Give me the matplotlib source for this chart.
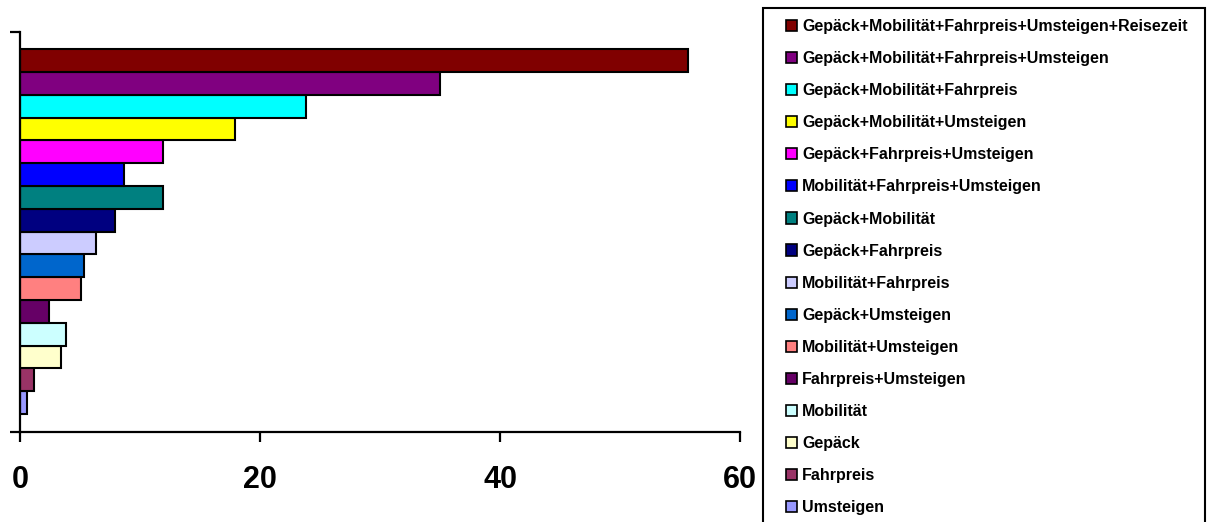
import matplotlib.pyplot as plt
from matplotlib.patches import Patch, Rectangle

# categories from bottom to top of the chart
categories = [
    'Umsteigen',
    'Fahrpreis',
    'Gepäck',
    'Mobilität',
    'Fahrpreis+Umsteigen',
    'Mobilität+Umsteigen',
    'Gepäck+Umsteigen',
    'Mobilität+Fahrpreis',
    'Gepäck+Fahrpreis',
    'Gepäck+Mobilität',
    'Mobilität+Fahrpreis+Umsteigen',
    'Gepäck+Fahrpreis+Umsteigen',
    'Gepäck+Mobilität+Umsteigen',
    'Gepäck+Mobilität+Fahrpreis',
    'Gepäck+Mobilität+Fahrpreis+Umsteigen',
    'Gepäck+Mobilität+Fahrpreis+Umsteigen+Reisezeit',
]
values = [0.6, 1.2, 3.4, 3.8, 2.4, 5.1, 5.3, 6.3, 7.9, 11.9, 8.7, 11.9, 17.9, 23.8, 35.0, 55.7]
colors = ['#9999FF', '#993366', '#FFFFCC', '#CCFFFF', '#660066', '#FF8080',
          '#0066CC', '#CCCCFF', '#000080', '#008080', '#0000FF', '#FF00FF',
          '#FFFF00', '#00FFFF', '#800080', '#800000']
xticks = [0, 20, 40, 60]

W, H = 1207, 522
fig = plt.figure(figsize=(W / 100, H / 100), dpi=100)
ax = fig.add_axes([20 / W, (H - 432) / H, 720 / W, 400 / H])

pos = list(range(len(categories)))
ax.barh(pos, values, height=1.0, color=colors, edgecolor='black', linewidth=1.5)

y0, y1 = -1.29, 16.25
ax.set_ylim(y0, y1)
ax.set_xlim(0, 60)

ax.spines['top'].set_visible(False)
ax.spines['right'].set_visible(False)
ax.spines['left'].set_linewidth(1.6)
ax.spines['bottom'].set_linewidth(1.6)

ax.set_yticks([y0, y1])
ax.set_yticklabels([])
ax.set_xticks(xticks)
ax.set_xticklabels([str(t) for t in xticks],
                   fontfamily=['Liberation Sans Narrow', 'Liberation Sans'],
                   fontweight='bold', fontsize=22)
ax.tick_params(axis='both', direction='out', length=7.5, width=1.6, color='black')
ax.tick_params(axis='x', pad=16)

# legend box runs off the bottom edge
fig.patches.append(Rectangle((763 / W, -0.05), (1205 - 763) / W, 1.05 - 8 / H,
                             transform=fig.transFigure, facecolor='white',
                             edgecolor='black', linewidth=1.5, zorder=0))

# legend: top entry first
handles = [Patch(facecolor=c, edgecolor='black', linewidth=1.2)
           for c in colors[::-1]]
leg = fig.legend(handles, categories[::-1], loc='upper left',
                 bbox_to_anchor=(786 / W, 1 - 19 / H),
                 prop={'family': 'Liberation Sans', 'weight': 'bold', 'size': 11.5},
                 frameon=False,
                 handlelength=0.7, handleheight=0.7, handletextpad=0.3,
                 labelspacing=1.07, borderpad=0, borderaxespad=0)

fig.savefig('out.png', dpi=100)
